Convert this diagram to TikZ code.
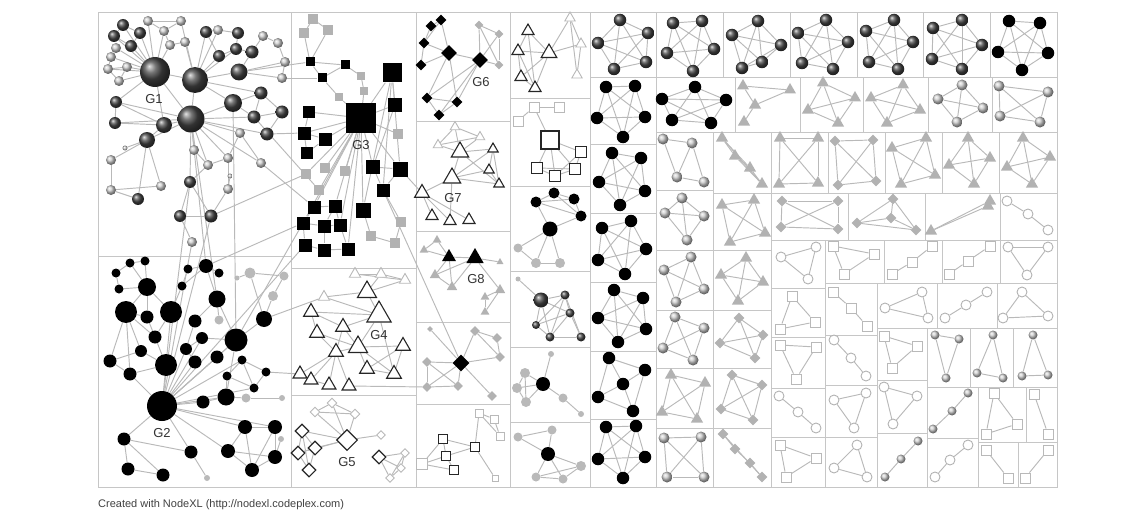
\documentclass[tikz,border=0pt]{standalone}
\usepackage{fontspec}
\setmainfont{Liberation Sans}
\usetikzlibrary{shapes.geometric, backgrounds}
\pgfdeclarelayer{edges}
\pgfsetlayers{background,edges,main}

\tikzset{
  conn/.style={draw=gray!55, line width=0.95pt},
  cellbox/.style={draw=gray!45, line width=1pt},
  dball/.style={circle, inner sep=0pt, shading=ball, ball color=black!72},
  lball/.style={circle, inner sep=0pt, shading=ball, ball color=gray!40},
  blk/.style={circle, inner sep=0pt, fill=black},
  gdot/.style={circle, inner sep=0pt, fill=gray!55},
  wtri/.style={regular polygon, regular polygon sides=3, inner sep=0pt, draw=black!85, line width=1.1pt, fill=white},
  ltri/.style={regular polygon, regular polygon sides=3, inner sep=0pt, draw=gray!55, line width=0.9pt, fill=white},
  btri/.style={regular polygon, regular polygon sides=3, inner sep=0pt, fill=black},
  gtri/.style={regular polygon, regular polygon sides=3, inner sep=0pt, fill=gray!60},
  bdia/.style={diamond, aspect=1, inner sep=0pt, fill=black},
  gdia/.style={diamond, aspect=1, inner sep=0pt, fill=gray!60},
  wdia/.style={diamond, aspect=1, inner sep=0pt, draw=black!85, line width=1.1pt, fill=white},
  ldia/.style={diamond, aspect=1, inner sep=0pt, draw=gray!55, line width=0.9pt, fill=white},
  wsq/.style={rectangle, inner sep=0pt, draw=black!85, line width=1.1pt, fill=white},
  lsq/.style={rectangle, inner sep=0pt, draw=gray!55, line width=0.9pt, fill=white},
  hollow/.style={circle, inner sep=0pt, draw=gray!60, line width=0.9pt, fill=white},
  kball/.style={dball, minimum size=12.5pt},
  kblk/.style={blk, minimum size=12.5pt},
  pball/.style={lball, minimum size=11pt},
  sball/.style={lball, minimum size=9pt},
  ptri/.style={gtri, minimum size=14pt},
  pdia/.style={gdia, minimum size=11pt},
  pring/.style={hollow, minimum size=10pt},
  psq/.style={lsq, minimum size=10pt},
  glabel/.style={font=\fontsize{13}{15}\selectfont, text=black!80, inner sep=1pt},
}

% sized vertices: prefix, style, x/y/size
\newcommand{\vset}[3]{\foreach [count=\k] \x/\y/\s in {#3} \node[#2, minimum size=\s*1pt] (#1\k) at (\x,\y) {};}
% links between named vertices
\newcommand{\elinks}[2]{\begin{pgfonlayer}{edges}\foreach \a/\b in {#2} \draw[conn] (#1\a) -- (#1\b);\end{pgfonlayer}}
% small network in one cell: prefix, style, x/y, edges
\newcommand{\netcell}[4]{%
  \foreach [count=\k] \x/\y in {#3} \node[#2] (#1\k) at (\x,\y) {};
  \edef\elist{#4}%
  \begin{pgfonlayer}{edges}\foreach \a/\b in \elist \draw[conn] (#1\a) -- (#1\b);\end{pgfonlayer}}
\def\kfour{1/2,1/3,1/4,2/3,2/4,3/4}
\def\kfive{1/2,1/3,1/4,1/5,2/3,2/4,2/5,3/4,3/5,4/5}
\def\ktri{1/2,1/3,2/3}
\def\kpth{1/2,2/3}

\begin{document}
\begin{tikzpicture}[x=1pt, y=-1pt]
  \useasboundingbox (0,0) rectangle (1136,519);

  % treemap cells
  \begin{pgfonlayer}{background}
  \foreach \xa/\ya/\xb/\yb in {98/13/1057/487,
    98/13/291/256, 98/256/291/487, 291/13/416/268, 291/268/416/395, 291/395/416/487,
    416/13/510/121, 416/121/510/231, 416/231/510/322, 416/322/510/404, 416/404/510/487,
    510/13/590/99, 510/99/590/186, 510/186/590/271, 510/271/590/347, 510/347/590/422, 510/422/590/487,
    590/13/656/78, 590/78/656/144, 590/144/656/213, 590/213/656/282, 590/282/656/351, 590/351/656/419, 590/419/656/487,
    656/13/723/78, 723/13/790/78, 790/13/857/78, 857/13/923/78, 923/13/990/78, 990/13/1057/78,
    656/78/735/132, 735/78/800/132, 800/78/863/132, 863/78/928/132, 928/78/992/132, 992/78/1057/132,
    656/132/713/190, 656/190/713/250, 656/250/713/310, 656/310/713/368, 656/368/713/428, 656/428/713/487,
    713/132/771/193, 713/193/771/250, 713/250/771/310, 713/310/771/368, 713/368/771/428, 713/428/771/487,
    771/132/828/193, 828/132/885/193, 885/132/942/193, 942/132/999/193, 999/132/1057/193,
    771/193/848/240, 848/193/925/240, 925/193/1000/240, 1000/193/1057/240,
    771/240/825/288, 771/288/825/337, 771/337/825/388, 771/388/825/437, 771/437/825/487,
    825/240/884/283, 825/283/877/335, 825/335/877/385, 825/385/877/437, 825/437/877/487,
    884/240/942/283, 877/283/937/328, 877/328/927/380, 877/380/927/433, 877/433/927/487,
    942/240/1000/283, 937/283/997/328, 927/328/970/387, 927/387/978/438, 927/438/978/487,
    1000/240/1057/283, 997/283/1057/328, 970/328/1013/387, 1013/328/1057/387,
    978/387/1026/442, 1026/387/1057/442, 978/442/1018/487, 1018/442/1057/487}
    \draw[cellbox] (\xa,\ya) rectangle (\xb,\yb);
  \end{pgfonlayer}

  % G1
  \vset{g1d}{dball}{155/72/30, 195/80/26, 191/119/27, 123/25/12, 140/33/12, 114/36/12, 131/46/12,
    206/32/12, 238/33/12, 219/56/12, 236/49/12, 252/52/13, 239/72/17, 233/103/18, 261/93/13,
    254/117/13, 282/112/13, 267/134/13, 116/102/12, 115/123/12, 164/125/16, 147/140/16,
    190/182/12, 138/199/12, 180/216/12, 211/216/13}
  \vset{g1g}{lball}{148/21/10, 181/21/10, 164/31/10, 170/45/10, 185/42/10, 116/48/10, 111/57/10,
    108/69/10, 127/67/10, 119/81/10, 218/30/10, 263/36/10, 278/43/10, 285/62/10, 282/78/10,
    194/150/10, 208/165/10, 228/158/10, 240/133/10, 261/163/10, 230/176/5, 228/189/10,
    111/160/10, 111/190/10, 161/186/10, 125/148/5, 192/242/10}
  \elinks{g1}{d1/d4,d1/d5,d1/d6,d1/d7,d1/g1,d1/g3,d1/g4,d1/g6,d1/g7,d1/g8,d1/g9,d1/g10,d1/d2,
    d1/d19,d1/d21,d1/d3,d2/d8,d2/d10,d2/d11,d2/g5,d2/g2,d2/d13,d2/d14,d2/d3,d2/g11,d2/d15,
    d3/d21,d3/d22,d3/d14,d3/g16,d3/g17,d3/d23,d3/d16,d3/d18,d3/g19,d3/g18,d3/d20,d3/d19,d3/g20,
    d4/d5,d4/d6,d6/d7,d5/d7,g1/g2,g1/g3,g2/g3,g3/g4,g4/g5,g6/g7,g7/g8,g8/g9,g8/g10,g9/g10,
    d8/g11,g11/d9,d9/d11,d10/d11,d8/d10,d11/d12,d12/g12,g12/g13,g13/g14,d12/d13,d13/g14,
    d13/g15,g14/g15,d14/d15,d15/d16,d16/d17,d17/d18,d15/d17,d14/d16,d19/d20,d19/d21,d20/d21,
    d21/d22,d22/d24,d22/g23,g23/g24,g24/d24,d22/g25,g25/g24,d22/g26,g16/g17,g17/d23,d23/d25,
    d23/d26,d25/d26,d25/g27,g18/g19,g19/g20,g18/g22,g21/g22,g22/d26,g17/g18}
  \node[glabel] (lg1) at (154,99) {G1};

  % G2
  \vset{g2b}{blk}{130/263/9, 145/261/9, 116/273/9, 119/289/9, 147/287/18, 126/312/22, 147/317/13,
    171/312/22, 155/337/13, 141/351/12, 110/361/13, 130/374/13, 166/365/22, 188/269/9,
    206/266/14, 219/273/9, 182/286/9, 217/299/17, 195/321/13, 202/338/12, 186/349/12,
    195/362/13, 236/340/23, 217/357/13, 264/319/16, 242/360/9, 227/376/9, 266/372/9,
    254/388/9, 226/397/17, 203/402/13, 162/406/30, 245/427/14, 275/427/14, 228/451/14,
    275/457/14, 252/470/14, 124/439/13, 191/452/13, 128/469/13, 163/475/13}
  \vset{g2h}{gdot}{250/273/11, 284/276/9, 273/296/10, 219/320/9, 237/278/5, 246/398/9,
    282/398/6, 281/439/6, 207/478/6}
  \elinks{g2}{b1/b2,b1/b3,b3/b4,b2/b5,b1/b5,b4/b5,b5/b6,b5/b7,b5/b8,b6/b7,b6/b9,b6/b11,b6/b12,
    b6/b10,b8/b9,b8/b13,b9/b13,b10/b11,b11/b12,b12/b13,b10/b13,b14/b15,b15/b16,b14/b17,b15/b18,
    b17/b8,b18/h4,b18/b23,b19/b21,b20/b21,b20/b23,b21/b22,b19/b18,b23/b24,b23/b25,b25/h3,h3/h2,
    h2/h1,h1/h5,h1/b25,b23/b30,b23/b32,b24/b32,b26/b27,b26/b28,b27/b29,b28/b29,b26/b29,b30/b27,
    b30/b31,b30/h6,h6/h7,b31/b32,b32/b30,b32/b22,b32/b13,b32/b33,b32/b34,b32/b35,b32/b38,
    b32/b39,b32/b21,b32/b20,b32/b24,b33/b34,b33/b35,b33/b37,b34/b36,b35/b36,b35/b37,b36/b37,
    b34/b37,b36/h8,b38/b40,b38/b41,b40/b41,b38/b39,b39/h9,b12/b32,b32/b26,b32/b29,b17/b15,b7/b9}
  \node[glabel] (lg2) at (162,433) {G2};

  % G3
  \vset{g3k}{rectangle, inner sep=0pt, fill=black}{361/118/30, 392/73/19, 395/105/14, 310/62/9,
    345/65/9, 322/78/9, 309/112/12, 304/133/13, 325/139/13, 307/153/12, 373/167/14, 400/169/15,
    383/190/13, 314/207/13, 335/206/13, 363/210/15, 303/223/13, 324/226/13, 340/225/13,
    305/245/13, 324/250/13, 348/249/13}
  \vset{g3q}{rectangle, inner sep=0pt, fill=gray!60}{313/19/10, 304/33/10, 328/30/10, 361/76/8,
    364/91/8, 339/97/8, 398/134/10, 325/168/10, 306/174/10, 345/171/10, 319/190/10, 401/222/10,
    371/236/10, 395/243/10}
  \elinks{g3}{q1/q2,q1/q3,q2/k4,q3/k4,k4/k5,k4/k6,k6/k5,k6/q6,q6/k1,k5/q4,q4/q5,q5/k1,k1/k2,
    k1/k3,k1/k7,k1/k8,k1/k9,k1/k11,k1/k12,k1/k14,k1/k15,k1/k16,k1/k17,k1/k19,k1/k22,k1/q8,k1/q9,
    k1/q10,k1/q11,k1/q7,k2/k12,k2/k13,k3/k11,k2/k16,k7/k8,k8/k9,k8/k10,k9/k10,k11/k12,k11/k13,
    k12/k13,k13/q12,q12/q14,q13/q14,k16/q13,k14/k15,k14/k17,k15/k19,k17/k18,k18/k19,k17/k20,
    k18/k21,k19/k22,k20/k21,k21/k22,k18/k15,k2/k3}
  \node[glabel] (lg3) at (361,145) {G3};

  % G4
  \vset{g4t}{wtri}{379/315/28, 367/292/22, 311/312/17, 343/327/17, 317/333/17, 358/347/22,
    336/352/17, 403/346/17, 367/369/17, 394/374/17, 300/374/16, 311/380/16, 329/385/16, 349/386/16}
  \vset{g4u}{ltri}{355/274/13, 381/274/13, 405/280/13, 324/297/13}
  \elinks{g4}{u1/u2,u2/u3,u1/u3,u2/t2,u3/t2,u4/t2,u4/t1,t2/t1,t1/t3,t1/t4,t3/t4,t3/t5,t4/t6,
    t5/t6,t6/t1,t6/t8,t6/t9,t6/t10,t7/t6,t7/t11,t7/t12,t7/t13,t7/t14,t11/t12,t12/t13,t8/t9,
    t8/t10,t9/t10,t4/t7,t1/t10,t5/t7}
  \node[glabel] (lg4) at (379,335) {G4};

  % G5
  \vset{g5v}{wdia}{347/440/21, 302/431/14, 315/448/14, 298/453/14, 309/470/14, 379/457/14}
  \vset{g5w}{ldia}{315/412/10, 332/403/10, 355/414/10, 381/435/9, 405/453/9, 401/468/9, 390/478/9}
  \elinks{g5}{w1/w2,w2/w3,w1/w3,w2/v1,w3/v1,w1/v1,v1/v2,v1/v3,v1/v4,v2/v3,v2/v4,v2/v5,v3/v4,
    v4/v5,v3/v5,v1/w4,v6/w5,v6/w6,v6/w7,w5/w6,w6/w7,w5/w7}
  \node[glabel] (lg5) at (347,462) {G5};

  % G6
  \vset{g6d}{bdia}{441/20/11, 431/26/11, 424/43/11, 449/53/16, 480/60/16, 421/65/11, 427/98/11,
    457/102/11, 439/115/11}
  \vset{g6g}{gdia}{479/25/9, 499/34/9, 499/65/9}
  \elinks{g6}{d1/d2,d1/d4,d2/d3,d3/d4,d3/d6,d4/d6,d4/d5,d4/d7,d4/d8,d5/d7,d5/d8,d5/d9,d7/d8,
    d7/d9,d8/d9,d1/d3,g1/g2,g1/g3,g2/g3,g1/d5,g3/d5,g2/d5}
  \node[glabel] (lg6) at (481,82) {G6};

  % G7
  \vset{g7d}{wtri}{460/152/20, 452/178/20, 422/193/17, 432/216/14, 450/221/14, 469/220/14,
    493/149/12, 489/170/12, 499/184/12}
  \vset{g7g}{ltri}{455/127/11, 480/137/11, 438/145/11}
  \elinks{g7}{g1/g2,g1/g3,g2/g3,g1/d1,g2/d1,g3/d1,d1/d2,d1/d7,d2/d3,d2/d7,d2/d8,d2/d9,d7/d8,
    d8/d9,d7/d9,d3/d4,d3/d5,d3/d6,d2/d5,d1/d9}
  \node[glabel] (lg7) at (453,198) {G7};

  % G8
  \vset{g8d}{btri}{449/257/16, 475/258/20}
  \vset{g8g}{gtri}{437/240/10, 424/250/10, 500/262/8, 435/275/12, 452/287/12, 485/297/10,
    500/290/12, 485/312/10}
  \elinks{g8}{d1/d2,d2/g3,g1/d1,g2/d1,g1/g2,d1/g4,g4/g5,d1/g5,d2/g5,g4/d2,g6/g7,g7/g8,g6/g8,d2/g7}
  \node[glabel] (lg8) at (476,279) {G8};

  % column 3, lower cells
  \vset{g9d}{bdia}{461/363/17}
  \vset{g9g}{gdia}{430/329/6, 475/331/10, 497/338/10, 500/357/10, 427/362/10, 427/387/10,
    458/386/10, 492/396/10}
  \elinks{g9}{d1/g1,d1/g2,d1/g4,g2/g3,g3/g4,g2/g4,d1/g5,d1/g6,d1/g7,g5/g6,g6/g7,g5/g7,d1/g8}
  \vset{g10d}{wsq}{443/439/9, 446/456/9, 454/470/9, 475/447/9}
  \vset{g10g}{lsq}{479/413/8, 494/419/8, 500/436/8, 422/464/11, 495/478/6}
  \elinks{g10}{d4/g1,g1/g2,g2/g3,g1/g3,d4/d2,d4/d1,d2/d3,g4/d3,g4/d2,g4/d1,d4/g5,d1/d2}

  % column 4
  \vset{c4ad}{wtri}{528/31/14, 518/51/14, 549/53/18, 521/77/14, 535/88/14}
  \vset{c4ag}{ltri}{570/18/12, 581/44/12, 577/75/12}
  \elinks{c4a}{d1/d2,d1/d3,d2/d3,d2/d4,d3/d4,d3/d5,d4/d5,d1/d5,d2/d5,d3/g1,g1/g2,g1/g3,g2/g3,d3/g2}
  \vset{c4bg}{lsq}{534/107/10, 559/107/10, 518/121/10}
  \vset{c4bd}{wsq}{550/140/18, 581/152/11, 537/168/11, 555/176/11, 575/169/11}
  \elinks{c4b}{g1/g2,g1/g3,g1/d1,d1/d2,d1/d3,d1/d4,d1/d5,d2/d5,d3/d4,d4/d5,d2/d4,d3/d5}
  \vset{c4cd}{blk}{536/202/11, 554/193/11, 574/199/11, 581/216/11, 550/229/15}
  \vset{c4cg}{gdot}{518/248/9, 536/263/10, 560/263/10}
  \elinks{c4c}{d1/d2,d1/d3,d2/d3,d2/d4,d3/d4,d1/d4,d4/d5,d1/d5,d5/g1,d5/g2,d5/g3,g1/g2,g2/g3}
  \vset{c4dd}{dball}{541/300/15, 565/295/9, 570/313/9, 536/325/8, 550/337/9, 581/337/9}
  \vset{c4dg}{gdot}{518/279/5}
  \elinks{c4d}{g1/d1,d1/d2,d1/d3,d1/d4,d1/d5,d2/d3,d2/d5,d3/d5,d3/d6,d4/d5,d5/d6,d2/d4,d3/d4,d2/d6}
  \vset{c4ed}{blk}{543/384/14}
  \vset{c4eg}{gdot}{551/354/6, 525/373/10, 517/388/10, 526/402/10, 563/398/9, 581/414/6}
  \elinks{c4e}{g1/d1,d1/g2,d1/g3,d1/g4,g2/g3,g3/g4,g2/g4,d1/g5,g5/g6}
  \vset{c4fd}{blk}{548/454/14}
  \vset{c4fg}{gdot}{518/437/9, 552/430/9, 536/477/9, 563/479/9, 581/466/10}
  \elinks{c4f}{g1/g2,g2/d1,d1/g3,d1/g4,d1/g5,g3/g4,g4/g5,g3/g5,g1/d1}

  % column 5
  \netcell{c5a}{kball}{620/20, 648/33, 598/43, 646/62, 614/69}{\kfive}
  \netcell{c5b}{kblk}{606/87, 635/86, 597/118, 645/117, 623/137}{\kfive}
  \netcell{c5c}{kblk}{612/153, 641/158, 599/182, 645/191, 620/205}{\kfive}
  \netcell{c5d}{kblk}{602/228, 631/221, 646/249, 598/260, 625/274}{\kfive}
  \netcell{c5e}{kblk}{614/290, 643/298, 598/318, 646/329, 618/342}{\kfive}
  \netcell{c5f}{kblk}{609/358, 645/370, 623/384, 598/397, 633/411}{1/2,1/3,1/4,2/3,2/5,3/4,3/5,4/5}
  \netcell{c5g}{kblk}{606/427, 636/426, 598/459, 645/457, 623/478}{\kfive}

  % top rows on the right
  \netcell{t1}{kball}{673/23, 702/21, 667/53, 714/49, 693/71}{\kfive}
  \netcell{t2}{kball}{758/21, 732/35, 781/45, 742/68, 762/62}{\kfive}
  \netcell{t3}{kball}{826/20, 798/33, 848/42, 802/63, 833/69}{\kfive}
  \netcell{t4}{kball}{894/20, 866/31, 913/42, 869/62, 898/69}{\kfive}
  \netcell{t5}{kball}{962/20, 933/28, 982/45, 932/59, 962/69}{\kfive}
  \netcell{t6}{kblk}{1009/21, 1040/23, 998/52, 1048/53, 1022/70}{\kfive}
  \netcell{r1}{kblk}{695/87, 662/99, 726/100, 672/120, 711/123}{\kfive}
  \netcell{r2}{ptri}{743/86, 790/90, 755/105, 744/122}{1/2,1/3,2/3,3/4}
  \netcell{r3}{ptri}{823/83, 808/110, 855/98, 838/123}{\kfour}
  \netcell{r4}{ptri}{903/85, 871/98, 920/110, 887/123}{\kfour}
  \netcell{r5}{pball}{962/85, 938/99, 983/108, 957/122}{\kfour}
  \netcell{r6}{pball}{999/86, 1048/92, 1000/116, 1040/122}{\kfour}

  % columns A and B
  \netcell{a1}{pball}{663/139, 692/143, 677/177, 704/182}{1/2,1/3,2/3,3/4,2/4}
  \netcell{a2}{pball}{682/198, 665/213, 704/216, 687/240}{\kfour}
  \netcell{a3}{pball}{664/270, 691/257, 704/289, 676/302}{\kfour}
  \netcell{a4}{pball}{675/317, 704/328, 663/348, 693/360}{\kfour}
  \netcell{a5}{ptri}{671/375, 705/383, 662/412, 697/419}{\kfour}
  \netcell{a6}{pball}{664/438, 701/437, 667/477, 704/477}{\kfour}
  \netcell{b1}{ptri}{722/138, 735/156, 750/168, 762/184}{\kfour}
  \netcell{b2}{ptri}{722/205, 754/200, 765/233, 730/242}{\kfour}
  \netcell{b3}{ptri}{746/258, 721/275, 763/282, 738/301}{\kfour}
  \netcell{b4}{pdia}{739/318, 763/335, 720/343, 755/358}{\kfour}
  \netcell{b5}{pdia}{732/375, 762/385, 721/409, 753/420}{\kfour}
  \netcell{b6}{pdia}{723/434, 735/449, 750/463, 762/477}{1/2,2/3,3/4,1/4}

  % rows 132--240
  \netcell{s1}{ptri}{780/138, 818/138, 779/184, 818/183}{\kfour}
  \netcell{s2}{pdia}{835/141, 873/140, 838/185, 876/181}{\kfour}
  \netcell{s3}{ptri}{892/148, 926/138, 901/184, 935/175}{\kfour}
  \netcell{s4}{ptri}{968/138, 949/165, 990/158, 974/184}{\kfour}
  \netcell{s5}{ptri}{1023/138, 1007/167, 1050/157, 1032/184}{\kfour}
  \netcell{s6}{pdia}{782/201, 838/201, 781/227, 838/229}{\kfour}
  \netcell{s7}{pdia}{893/199, 857/223, 891/218, 916/230}{\kfour}
  \netcell{s8}{ptri}{990/201, 988/206, 931/231}{\ktri}
  \netcell{s9}{pring}{1007/201, 1028/214, 1048/230}{\kpth}

  % small triads, lower right
  \netcell{i1}{pring}{781/257, 816/247, 808/279}{\ktri}
  \netcell{i2}{psq}{792/296, 815/322, 780/329}{\ktri}
  \netcell{i3}{psq}{780/345, 816/347, 796/379}{\ktri}
  \netcell{i4}{pring}{779/396, 798/412, 816/428}{\kpth}
  \netcell{i5}{psq}{780/445, 816/458, 786/477}{\ktri}
  \netcell{ii1}{psq}{833/246, 874/254, 844/274}{\ktri}
  \netcell{ii2}{psq}{833/292, 851/308, 867/326}{\kpth}
  \netcell{ii3}{pring}{834/340, 851/358, 866/376}{\kpth}
  \netcell{ii4}{pring}{834/400, 866/393, 854/428}{\ktri}
  \netcell{ii5}{pring}{857/445, 834/468, 867/477}{\ktri}
  \netcell{iii1}{psq}{892/274, 912/262, 932/246}{\kpth}
  \netcell{iii2}{pring}{885/308, 922/292, 928/318}{\ktri}
  \netcell{iii3}{psq}{884/336, 917/346, 892/368}{\ktri}
  \netcell{iii4}{pring}{884/387, 917/396, 893/424}{\ktri}
  \netcell{iii5}{sball}{885/477, 901/459, 918/441}{\kpth}
  \netcell{iv1}{psq}{949/274, 968/261, 990/246}{\kpth}
  \netcell{iv2}{pring}{945/318, 966/305, 987/292}{\kpth}
  \netcell{iv3}{sball}{935/335, 959/339, 946/378}{\ktri}
  \netcell{iv4}{sball}{933/429, 952/411, 968/393}{\kpth}
  \netcell{iv5}{pring}{935/477, 950/460, 968/445}{\kpth}
  \netcell{v1}{pring}{1008/247, 1048/247, 1027/275}{\ktri}
  \netcell{v2}{pring}{1022/292, 1003/318, 1048/316}{\ktri}
  \netcell{v3}{sball}{993/335, 977/373, 1003/378}{\ktri}
  \netcell{v4}{sball}{1033/335, 1022/376, 1048/375}{\ktri}
  \netcell{v5}{psq}{994/393, 1017/424, 986/434}{\ktri}
  \netcell{v6}{psq}{1034/394, 1048/434}{1/2}
  \netcell{v7}{psq}{986/450, 1008/478}{1/2}
  \netcell{v8}{psq}{1048/450, 1025/478}{1/2}

  % links that run between clusters
  \elinks{}{g1d3/g2b15, g1d3/g2b18, g1d14/g2b23, g2b32/g1d23, g2b32/g1d26, g2b32/g1g27,
    g1d13/g3k4, g1g15/g3k6, g1d18/g3k8, g1g20/g3k14, g1d26/g3q9, g2b23/g3k17, g2b25/g4u4,
    g2b28/g4t11, g2b32/g3k20, g3k12/g7d3, g3k13/g9d1, g4t14/g9g6, g2b15/g3k17, g1d16/g3q11}

  \node[font=\fontsize{11}{13}\selectfont, text=black!75, anchor=west, inner sep=0pt] (credit)
    at (98,505) {Created with NodeXL (http://nodexl.codeplex.com)};
\end{tikzpicture}
\end{document}
